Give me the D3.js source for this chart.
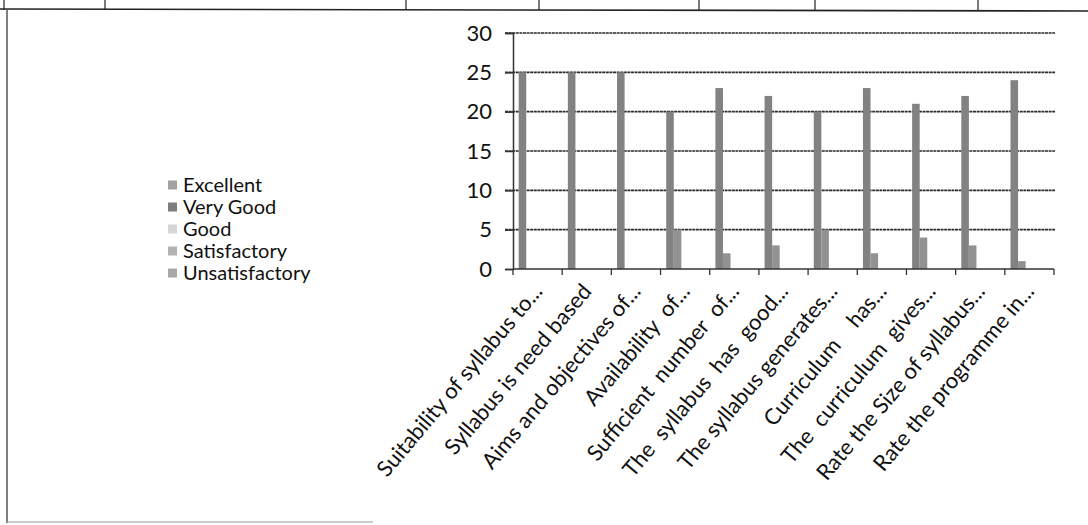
<!DOCTYPE html>
<html><head><meta charset="utf-8">
<script src="https://cdn.jsdelivr.net/npm/d3@7"></script>
<style>html,body{margin:0;padding:0;background:#fff;}svg{display:block;}</style>
</head><body>
<svg id="chart" width="1088" height="525"></svg>
<script>
const categories = ["Suitability of syllabus to...","Syllabus is need based","Aims and objectives of...","Availability  of...","Sufficient  number  of...","The  syllabus  has  good...","The syllabus generates...","Curriculum    has...","The  curriculum  gives...","Rate the Size of syllabus...","Rate the programme in..."];
const seriesNames = ["Excellent","Very Good","Good","Satisfactory","Unsatisfactory"];
const excellent = [25,25,25,20,23,22,20,23,21,22,24];
const veryGood = [0,0,0,5,2,3,5,2,4,3,1];
const good = [0,0,0,0,0,0,0,0,0,0,0];
const satisfactory = [0,0,0,0,0,0,0,0,0,0,0];
const unsatisfactory = [0,0,0,0,0,0,0,0,0,0,0];
const yTicks = [0,5,10,15,20,25,30];
const seriesValues = [excellent, veryGood, good, satisfactory, unsatisfactory];
const barColors = ["#828282","#929292","#d4d4d4","#b4b4b4","#a6a6a6"];
const swatchColors = ["#a2a2a2","#7e7e7e","#d6d6d6","#b2b2b2","#a8a8a8"];

const svg = d3.select("#chart");
const font = "Lato, 'Open Sans', sans-serif";

// page/table border lines
const frame = svg.append("g").attr("stroke","#222").attr("fill","none");
frame.append("line").attr("x1",0).attr("y1",9).attr("x2",1088).attr("y2",11).attr("stroke-width",1.6);
[4,105,406,539,699,815,978].forEach(xx=>{
  frame.append("line").attr("x1",xx).attr("x2",xx).attr("y1",0).attr("y2",10).attr("stroke-width",1.2);
});
frame.append("line").attr("x1",7).attr("x2",7).attr("y1",10).attr("y2",523).attr("stroke","#555").attr("stroke-width",1.5);
frame.append("line").attr("x1",7).attr("x2",373).attr("y1",522).attr("y2",522).attr("stroke","#999").attr("stroke-width",1.2);

const x0 = 513, x1 = 1054, yTop = 33, yBot = 269;
const x = d3.scaleBand().domain(categories).range([x0,x1]).paddingInner(0).paddingOuter(0);
const y = d3.scaleLinear().domain([0,30]).range([yBot,yTop]);
const bw = x.bandwidth();
const xs = d3.scaleBand().domain(seriesNames).range([0,bw]).paddingInner(0).paddingOuter(0.75);

// gridlines
svg.append("g").selectAll("line").data(yTicks.filter(t=>t>0)).join("line")
  .attr("x1",x0-8).attr("x2",x1+1).attr("y1",d=>y(d)).attr("y2",d=>y(d))
  .attr("stroke","#2a2a2a").attr("stroke-width",1.6).attr("stroke-dasharray","3,0.6");

// y axis
const yAxis = svg.append("g").attr("transform",`translate(${x0},0)`)
  .call(d3.axisLeft(y).tickValues(yTicks).tickSize(8).tickPadding(13));
yAxis.select(".domain").attr("stroke","#333").attr("stroke-width",1.5);
yAxis.selectAll(".tick line").attr("stroke","#333").attr("stroke-width",1.5);
yAxis.selectAll("text").attr("font-family",font).attr("font-size","22px").attr("fill","#111");

// bars
seriesNames.forEach((s,i)=>{
  svg.append("g").selectAll("rect").data(seriesValues[i].map((v,j)=>({c:categories[j],v}))).join("rect")
    .attr("x",d=>x(d.c)+xs(s)).attr("width",xs.bandwidth())
    .attr("y",d=>y(d.v)).attr("height",d=>yBot-y(d.v))
    .attr("fill",barColors[i]);
});

// x axis
const xAxis = svg.append("g").attr("transform",`translate(0,${yBot})`);
xAxis.append("line").attr("x1",x0).attr("x2",x1).attr("y1",0).attr("y2",0).attr("stroke","#333").attr("stroke-width",1.5);
const bounds = categories.map(c=>x(c)).concat([x1]);
xAxis.selectAll("line.tk").data(bounds).join("line").attr("class","tk")
  .attr("x1",d=>d).attr("x2",d=>d).attr("y1",0).attr("y2",6).attr("stroke","#333").attr("stroke-width",1.3);
xAxis.selectAll("text").data(categories).join("text")
  .attr("transform",d=>`translate(${x(d)+bw/2},${18}) rotate(-50)`)
  .attr("text-anchor","end").attr("dy","0.35em")
  .attr("font-family",font).attr("font-size","22px").attr("fill","#111")
  .style("white-space","pre").text(d=>d);

// legend
const lg = svg.append("g").attr("transform","translate(168,185)");
seriesNames.forEach((s,i)=>{
  const g = lg.append("g").attr("transform",`translate(0,${i*22})`);
  g.append("rect").attr("x",0).attr("y",-4.5).attr("width",9).attr("height",9).attr("fill",swatchColors[i]);
  g.append("text").attr("x",15).attr("y",0).attr("dy","0.35em")
    .attr("font-family",font).attr("font-size","20px").attr("fill","#111").text(s);
});
</script>
</body></html>
